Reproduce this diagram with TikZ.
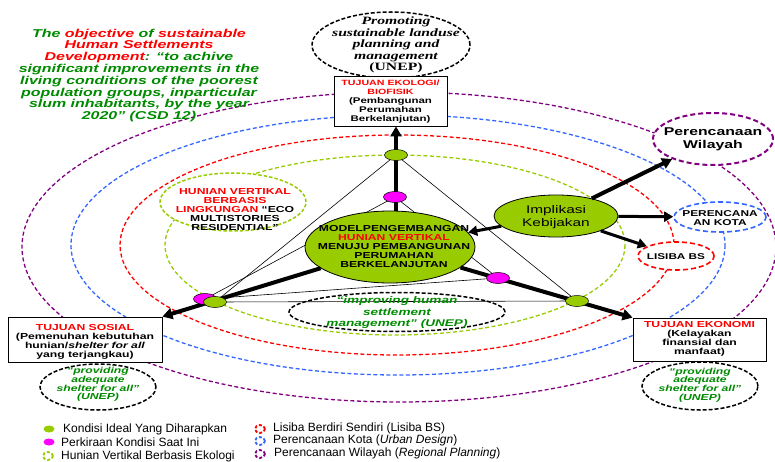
\documentclass[tikz,border=0pt]{standalone}
\usepackage{fontspec}
\setmainfont{Liberation Sans}[FakeStretch=1.4]
\newfontfamily\serifS{Liberation Serif}[FakeStretch=1.4]
\newfontfamily\legfont{Liberation Sans}
\usetikzlibrary{shapes.geometric,arrows.meta}
\definecolor{lgreen}{HTML}{99CC00}
\definecolor{dgreen}{HTML}{008A00}
\definecolor{mblue}{HTML}{3366FF}
\definecolor{purp}{HTML}{800080}
\definecolor{mag}{HTML}{FF00FF}
\newcommand\fsz[2]{\fontsize{#1}{#2}\selectfont}
\begin{document}
\begin{tikzpicture}[x=1pt,y=-1pt,
  orbit/.style={line width=1.3pt, dash pattern=on 4pt off 2.5pt},
  tagring/.style={ellipse, draw, fill=white, line width=2pt, dash pattern=on 5pt off 3pt, inner sep=0},
  blackring/.style={ellipse, draw=black, fill=white, line width=1.5pt, dash pattern=on 4pt off 2pt, inner sep=0},
  dotG/.style={ellipse, draw=black, line width=0.5pt, fill=lgreen, minimum width=23pt, minimum height=11pt, inner sep=0},
  dotM/.style={ellipse, draw=black, line width=0.5pt, fill=mag, minimum width=23pt, minimum height=11pt, inner sep=0},
  goalbox/.style={rectangle, draw=black, line width=0.8pt, fill=white, inner sep=0},
  btxt/.style={align=center, inner sep=0, font=\bfseries\fsz{8.7}{9}},
  gtxt/.style={align=center, inner sep=0, text=dgreen, font=\bfseries\itshape\fsz{8.7}{8.7}},
  thinline/.style={line width=0.6pt, black},
  bigarrow/.style={line width=4pt, -{Triangle[length=10pt,width=11pt]}},
  midarrow/.style={line width=3pt, -{Triangle[length=9pt,width=10pt]}},
  legdot/.style={ellipse, minimum width=11pt, minimum height=7pt, inner sep=0},
  legring/.style={ellipse, draw, line width=1.8pt, dash pattern=on 3pt off 2pt, minimum width=10pt, minimum height=8pt, inner sep=0},
  legtxt/.style={anchor=west, inner sep=0, font=\legfont\fsz{12}{13}}
]
\useasboundingbox (0,0) rectangle (775,462);

% concentric orbits
\draw[orbit, purp] (399,247) ellipse [x radius=377, y radius=155];
\draw[orbit, mblue] (398,245) ellipse [x radius=327, y radius=130];
\draw[orbit, red] (397,245) ellipse [x radius=277, y radius=110];
\draw[orbit, lgreen] (395,245) ellipse [x radius=230, y radius=90];

% small rings
\node[blackring, minimum width=158pt, minimum height=66pt] (prom) at (391,45) {};
\node[ellipse, draw=lgreen, fill=white, line width=1.5pt, dash pattern=on 3.5pt off 2pt, minimum width=146pt, minimum height=58pt, inner sep=0] (hun) at (233,202) {};
\node[blackring, fill=none, minimum width=216pt, minimum height=39pt] (imp) at (397,312) {};
\node[blackring, minimum width=116pt, minimum height=46pt] (provL) at (98,387) {};
\node[blackring, minimum width=116pt, minimum height=48pt] (provR) at (700,386) {};

% dot centres
\coordinate (gTc) at (396,155);
\coordinate (gLc) at (215,302);
\coordinate (gRc) at (577,301);
\coordinate (mTc) at (395,197);
\coordinate (mLc) at (205,299);
\coordinate (mRc) at (498,278);

% thin triangles
\draw[thinline] (gTc) -- (gLc) -- (gRc) -- cycle;
\draw[thinline] (mTc) -- (mLc) -- (mRc) -- cycle;

% central ellipse
\node[ellipse, draw=black, line width=0.8pt, fill=lgreen, minimum width=170pt, minimum height=72pt, inner sep=0] (cen) at (390,247) {};

% goal boxes
\node[goalbox, minimum width=113pt, minimum height=50pt] (ekl) at (390.5,101) {};
\node[goalbox, minimum width=154pt, minimum height=45pt] (sos) at (85,339.5) {};
\node[goalbox, minimum width=133pt, minimum height=43pt] (eko) at (699.5,339.5) {};

% policy ellipses
\node[ellipse, draw=black, line width=0.8pt, fill=lgreen, minimum width=124pt, minimum height=42pt, inner sep=0] (impl) at (556,216) {};
\node[tagring, draw=purp, minimum width=120pt, minimum height=52pt] (wil) at (713,139) {};
\node[tagring, draw=mblue, line width=1.6pt, minimum width=92pt, minimum height=30pt] (kota) at (720,217) {};
\node[tagring, draw=red, line width=1.6pt, minimum width=76pt, minimum height=28pt] (lis) at (676,256) {};

% thick arrows
\draw[bigarrow] (cen) -- (sos.north east);
\draw[bigarrow] (cen) -- (eko.north west);
\draw[bigarrow] (cen.north -| gTc) -- (ekl.south -| gTc);
\draw[midarrow] (impl) -- (cen);
\draw[bigarrow] (impl) -- (wil);
\draw[midarrow] (impl) -- (kota);
\draw[midarrow] (impl) -- (lis);

% dots
\node[dotM] (mT) at (mTc) {};
\node[dotM] (mL) at (mLc) {};
\node[dotM] (mR) at (mRc) {};
\node[dotG] (gT) at (gTc) {};
\node[dotG] (gL) at (gLc) {};
\node[dotG] (gR) at (gRc) {};

% texts
\node[align=center, inner sep=0, text=dgreen, font=\bfseries\itshape\fsz{11.4}{11.8}] (ttl) at (139,75.5)
 {The \textcolor{red}{objective} of \textcolor{red}{sustainable}\\
  \textcolor{red}{Human Settlements}\\
  \textcolor{red}{Development}: “to achive\\
  significant improvements in the\\
  living conditions of the poorest\\
  population groups, inparticular\\
  slum inhabitants, by the year\\
  2020” (CSD 12)};

\node[align=center, inner sep=0, font=\serifS\bfseries\itshape\fsz{11.2}{11.6}] (promT) at (396,45)
 {Promoting\\ sustainable landuse\\ planning and\\ management\\ \upshape(UNEP)};

\node[btxt, font=\bfseries\fsz{8.2}{9}] (eklT) at (390.5,101.5)
 {\textcolor{red}{\fsz{7.6}{9}TUJUAN EKOLOGI/}\\ \textcolor{red}{\fsz{7.6}{9}BIOFISIK}\\ (Pembangunan\\ Perumahan\\ Berkelanjutan)};

\node[btxt] (sosT) at (85,342)
 {\textcolor{red}{TUJUAN SOSIAL}\\ (Pemenuhan kebutuhan\\ hunian/\textit{shelter for all}\\ yang terjangkau)};

\node[btxt] (ekoT) at (699.5,338.5)
 {\textcolor{red}{TUJUAN EKONOMI}\\ (Kelayakan\\ finansial dan\\ manfaat)};

\node[btxt] (cenT) at (394,247)
 {MODELPENGEMBANGAN\\ \textcolor{red}{HUNIAN VERTIKAL}\\ MENUJU PEMBANGUNAN\\ PERUMAHAN\\ BERKELANJUTAN};

\node[btxt] (hunT) at (235,209.5)
 {\textcolor{red}{HUNIAN VERTIKAL}\\ \textcolor{red}{BERBASIS}\\ \textcolor{red}{LINGKUNGAN} “ECO\\ MULTISTORIES\\ RESIDENTIAL”};

\node[gtxt, font=\bfseries\itshape\fsz{9.7}{11.5}] (impT) at (397,312.5)
 {“improving human\\ settlement\\ management” (UNEP)};

\node[gtxt] (provLT) at (98,384.5)
 {“providing\\ adequate\\ shelter for all”\\ (UNEP)};
\node[gtxt] (provRT) at (700,385)
 {“providing\\ adequate\\ shelter for all”\\ (UNEP)};

\node[align=center, inner sep=0, font=\fsz{11}{13}] (implT) at (556,217.5) {Implikasi\\ Kebijakan};
\node[align=center, inner sep=0, font=\bfseries\fsz{11.3}{13}] (wilT) at (713,139.5) {Perencanaan\\ Wilayah};
\node[btxt, font=\bfseries\fsz{8.5}{9}] (kotaT) at (720,218.5) {PERENCANA\\ AN KOTA};
\node[btxt, font=\bfseries\fsz{8.4}{9}] (lisT) at (676,257) {LISIBA BS};

% legend
\node[legdot, fill=lgreen] (lg1) at (49,429) {};
\node[legtxt] (lg1t) at (63,429) {Kondisi Ideal Yang Diharapkan};
\node[legdot, fill=mag] (lg2) at (49,442) {};
\node[legtxt] (lg2t) at (61,442) {Perkiraan Kondisi Saat Ini};
\node[legring, draw=lgreen] (lg3) at (48,456) {};
\node[legtxt] (lg3t) at (61,456) {Hunian Vertikal Berbasis Ekologi};
\node[legring, draw=red] (lg4) at (260,429) {};
\node[legtxt] (lg4t) at (273,428) {Lisiba Berdiri Sendiri (Lisiba BS)};
\node[legring, draw=mblue] (lg5) at (260,441) {};
\node[legtxt] (lg5t) at (273,440) {Perencanaan Kota (\textit{Urban Design})};
\node[legring, draw=purp] (lg6) at (260,454) {};
\node[legtxt] (lg6t) at (274,453) {Perencanaan Wilayah (\textit{Regional Planning})};
\end{tikzpicture}
\end{document}
